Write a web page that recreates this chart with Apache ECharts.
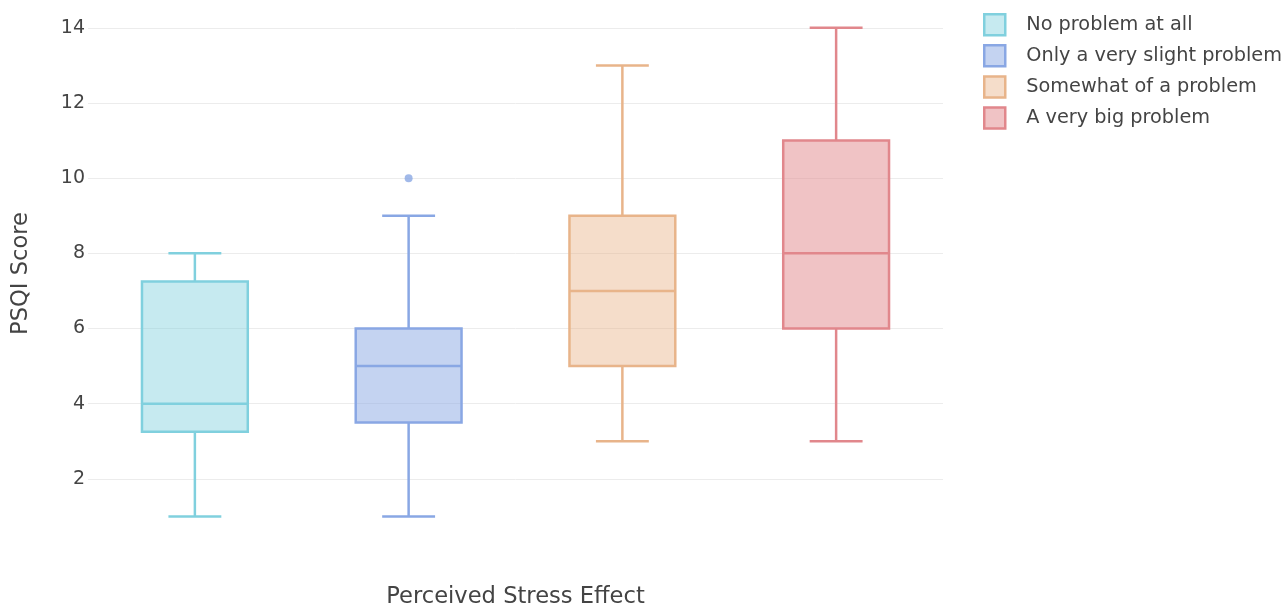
<!DOCTYPE html>
<html>
<head>
<meta charset="utf-8">
<script src="https://cdn.jsdelivr.net/npm/echarts@6/dist/echarts.min.js"></script>
<style>html,body{margin:0;padding:0;background:#fff;overflow:hidden;}#c{width:1288px;height:605px;}</style>
</head>
<body>
<div id="c"></div>
<script>
const categories = ['No problem at all', 'Only a very slight problem', 'Somewhat of a problem', 'A very big problem'];
const whiskerLow = [1, 1, 3, 3];
const q1 = [3.25, 3.5, 5, 6];
const median = [4, 5, 7, 8];
const q3 = [7.25, 6, 9, 11];
const whiskerHigh = [8, 9, 13, 14];
const outliers = [[1, 10]]; // [category index, value]
const yTicks = [2, 4, 6, 8, 10, 12, 14];

const strokeColors = ['rgb(128,208,222)', 'rgb(137,167,228)', 'rgb(232,180,138)', 'rgb(225,135,140)'];
const fillColors = ['rgba(128,208,222,0.45)', 'rgba(137,167,228,0.5)', 'rgba(232,180,138,0.45)', 'rgba(225,135,140,0.5)'];
const FONT = '"DejaVu Sans", Verdana, sans-serif';

function renderBox(params, api) {
  const x = api.value(0);
  const bandW = api.size([1, 0])[0];
  const boxW = bandW * 0.495;
  const capW = boxW * 0.5;
  const pLow = api.coord([x, api.value(1)]);
  const pQ1 = api.coord([x, api.value(2)]);
  const pMed = api.coord([x, api.value(3)]);
  const pQ3 = api.coord([x, api.value(4)]);
  const pHigh = api.coord([x, api.value(5)]);
  const cx = pLow[0];
  const i = params.seriesIndex;
  const stroke = strokeColors[i];
  const lw = 2.5;
  return {
    type: 'group',
    children: [
      { type: 'line', shape: { x1: cx, y1: pLow[1], x2: cx, y2: pQ1[1] }, style: { stroke, lineWidth: lw } },
      { type: 'line', shape: { x1: cx, y1: pQ3[1], x2: cx, y2: pHigh[1] }, style: { stroke, lineWidth: lw } },
      { type: 'line', shape: { x1: cx - capW / 2, y1: pLow[1], x2: cx + capW / 2, y2: pLow[1] }, style: { stroke, lineWidth: lw } },
      { type: 'line', shape: { x1: cx - capW / 2, y1: pHigh[1], x2: cx + capW / 2, y2: pHigh[1] }, style: { stroke, lineWidth: lw } },
      { type: 'rect', shape: { x: cx - boxW / 2, y: pQ3[1], width: boxW, height: pQ1[1] - pQ3[1] }, style: { fill: fillColors[i], stroke, lineWidth: lw } },
      { type: 'line', shape: { x1: cx - boxW / 2, y1: pMed[1], x2: cx + boxW / 2, y2: pMed[1] }, style: { stroke, lineWidth: lw } }
    ]
  };
}

const series = categories.map((name, i) => ({
  name,
  type: 'custom',
  renderItem: renderBox,
  encode: { x: 0, y: [1, 2, 3, 4, 5] },
  itemStyle: { color: fillColors[i], borderColor: strokeColors[i] },
  data: [[i, whiskerLow[i], q1[i], median[i], q3[i], whiskerHigh[i]]],
  z: 3
}));

outliers.forEach(o => {
  series.push({
    name: categories[o[0]],
    type: 'scatter',
    symbolSize: 8,
    itemStyle: { color: strokeColors[o[0]] },
    data: [[o[0], o[1]]],
    z: 4
  });
});

const chart = echarts.init(document.getElementById('c'), null, { renderer: 'canvas', width: 1288, height: 605 });
chart.setOption({
  animation: false,
  backgroundColor: '#fff',
  grid: { left: 88, width: 855, top: 9, height: 545, containLabel: false, outerBoundsMode: 'none' },
  legend: {
    orient: 'vertical',
    left: 978,
    top: 8,
    itemWidth: 21,
    itemHeight: 21,
    itemGap: 7.6,
    icon: 'rect',
    selectedMode: false,
    textStyle: { fontFamily: FONT, fontSize: 19.3, lineHeight: 22, color: '#444', padding: [0, 0, 0, 16] },
    data: categories.map((name, i) => ({
      name,
      icon: 'rect',
      itemStyle: { color: fillColors[i], borderColor: strokeColors[i], borderWidth: 2.5 }
    }))
  },
  xAxis: {
    type: 'category',
    data: categories,
    name: 'Perceived Stress Effect',
    nameLocation: 'middle',
    nameGap: 32,
    nameTextStyle: { fontFamily: FONT, fontSize: 22.6, color: '#444' },
    axisLine: { show: false },
    axisTick: { show: false },
    axisLabel: { show: false },
    splitLine: { show: false }
  },
  yAxis: {
    type: 'value',
    min: 0,
    max: 14.5,
    interval: 2,
    name: 'PSQI Score',
    nameLocation: 'middle',
    nameGap: 55,
    nameTextStyle: { fontFamily: FONT, fontSize: 22.6, color: '#444', padding: [0, 0, 0, 16] },
    axisLine: { show: false },
    axisTick: { show: false },
    axisLabel: {
      fontFamily: FONT, fontSize: 19, color: '#444', margin: 3,
      showMinLabel: false, showMaxLabel: true,
      formatter: v => (yTicks.indexOf(v) >= 0 ? String(v) : '')
    },
    splitLine: { show: true, showMinLine: false, showMaxLine: false, lineStyle: { color: '#ececec', width: 1 } }
  },
  series
});
</script>
</body>
</html>
